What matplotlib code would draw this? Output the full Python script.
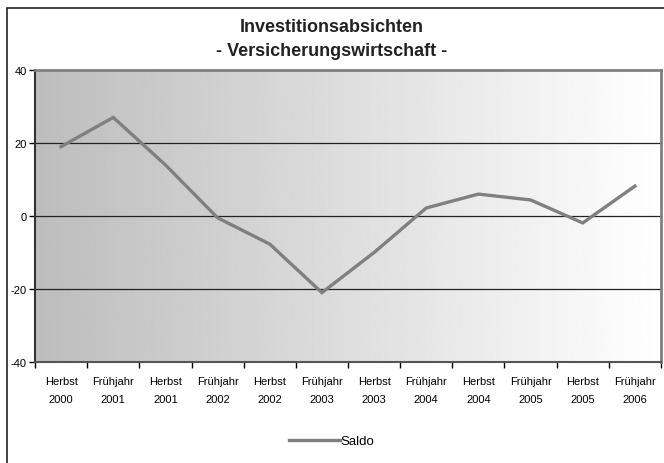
import numpy as np
import matplotlib
matplotlib.use('Agg')
from matplotlib import pyplot as plt
from matplotlib.patches import Rectangle

plt.rcParams['font.family'] = ['Liberation Sans', 'DejaVu Sans']

# data
kategorien = ['Herbst\n2000', 'Frühjahr\n2001', 'Herbst\n2001', 'Frühjahr\n2002',
              'Herbst\n2002', 'Frühjahr\n2003', 'Herbst\n2003', 'Frühjahr\n2004',
              'Herbst\n2004', 'Frühjahr\n2005', 'Herbst\n2005', 'Frühjahr\n2006']
saldo = [19, 27, 14, -0.5, -7.7, -21, -10, 2.2, 6, 4.4, -1.9, 8.2]
yticks = [-40, -20, 0, 20, 40]

fig = plt.figure(figsize=(6.64, 4.64), dpi=100)
fig.patch.set_facecolor('white')

# outer frame
fig.patches.append(Rectangle((7 / 664, -0.05), 1.0, 1 - 9 / 464 + 0.05,
                             transform=fig.transFigure, fill=False,
                             edgecolor='#222222', linewidth=1.2))

ax = fig.add_axes([35 / 664, 101 / 464, 626 / 664, 292 / 464])
x = np.arange(len(saldo))
ax.set_xlim(-0.5, len(saldo) - 0.5)
ax.set_ylim(-40, 40)

# gradient background
grad = np.linspace(0.74, 1.0, 256).reshape(1, -1)
ax.imshow(grad, cmap='gray', vmin=0, vmax=1, aspect='auto',
          extent=(-0.5, len(saldo) - 0.5, -40, 40), zorder=0)

for yv in [-20, 0, 20]:
    ax.axhline(yv, color='#222222', linewidth=0.9, zorder=1)

ax.plot(x, saldo, color='#808080', linewidth=2.4, label='Saldo', zorder=3,
        solid_joinstyle='miter')

ax.set_yticks(yticks)
ax.set_yticklabels([str(v) for v in yticks], fontsize=8)
ax.tick_params(axis='y', direction='out', length=4, width=1, pad=2)

ax.set_xticks(np.arange(len(saldo) + 1) - 0.5)
ax.set_xticklabels([])
ax.tick_params(axis='x', which='major', direction='out', length=4, width=1)
ax.set_xticks(x, minor=True)
ax.set_xticklabels(kategorien, minor=True, fontsize=8, linespacing=2.0)
ax.tick_params(axis='x', which='minor', length=0, pad=10)

ax.spines['left'].set_color('#333333')
ax.spines['left'].set_linewidth(1.5)
ax.spines['bottom'].set_color('#555555')
ax.spines['bottom'].set_linewidth(1.5)
ax.spines['top'].set_color('#808080')
ax.spines['top'].set_linewidth(2)
ax.spines['right'].set_color('#808080')
ax.spines['right'].set_linewidth(2)

fig.text(332 / 664, 1 - 27 / 464, 'Investitionsabsichten', ha='center', va='center',
         fontsize=13, fontweight='bold', color='#222222')
fig.text(332 / 664, 1 - 52 / 464, '- Versicherungswirtschaft -', ha='center', va='center',
         fontsize=13, fontweight='bold', color='#222222')

fig.legend(loc='center', bbox_to_anchor=(332 / 664, 1 - 442 / 464), frameon=False,
           fontsize=9.5, handlelength=3.8, handletextpad=0.1)

fig.savefig('out.png', dpi=100)
